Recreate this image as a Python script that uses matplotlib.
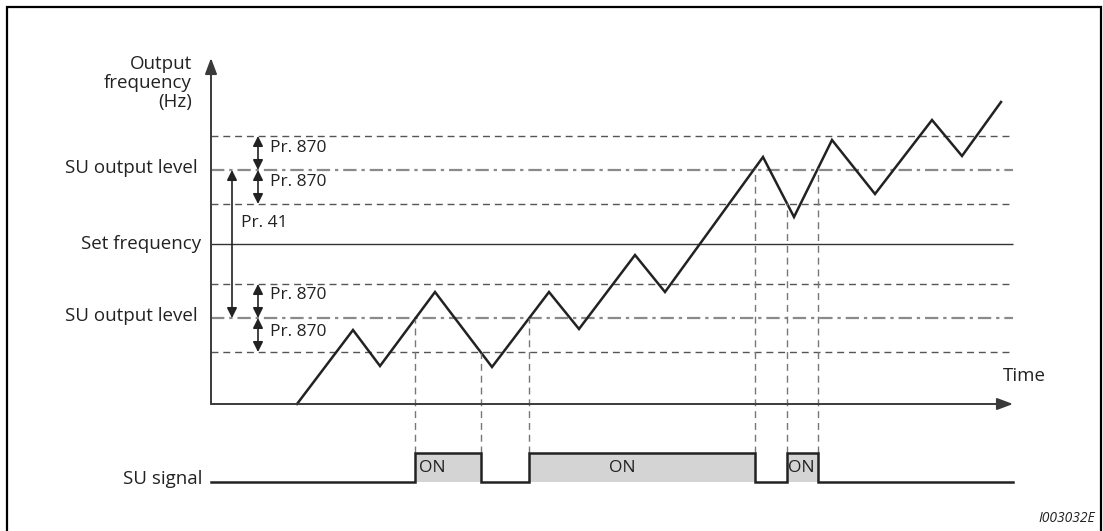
import matplotlib
matplotlib.use("Agg")
import matplotlib.pyplot as plt
import numpy as np

plt.rcParams['font.family'] = ['Open Sans', 'DejaVu Sans']

# --- values (1 unit ~ 1 px) ---
# output frequency polyline: time points and frequency values
t_freq = [86, 142, 169, 224, 281, 338, 368, 424, 454, 552, 583, 621, 664, 721, 751, 790]
f_out = [0, 74, 38, 112, 37, 112, 75, 149, 112, 247, 187, 264, 210, 284, 248, 302]

set_freq = 160   # set frequency
pr41 = 74        # Pr. 41 (up-to-frequency sensitivity)
pr870 = 34       # Pr. 870 (hysteresis width)
t_end = 802      # end of time axis
f_top = 346      # end of frequency axis

# SU signal ON intervals (start, end)
su_on = [(204, 270), (318, 544), (576, 607)]
su_on_labels = ["ON", "ON", "ON"]
su_label_t = [208, 398, 577]
sig_low, sig_high = -78, -49

fig = plt.figure(figsize=(11.03, 5.31), dpi=100)
ax = fig.add_axes([0, 0, 1, 1])
ax.set_xlim(-211, 892)
ax.set_ylim(-127, 404)
ax.axis('off')

su_lo = set_freq - pr41
su_hi = set_freq + pr41

# horizontal reference levels
dash = (0, (5, 3.5))
for lvl in [su_lo - pr870, su_lo + pr870, su_hi - pr870, su_hi + pr870]:
    ax.hlines(lvl, 0, t_end, colors='#555555', lw=1.0, linestyles=[dash])
for lvl in [su_lo, su_hi]:
    ax.hlines(lvl, 0, t_end, colors='#8a8a8a', lw=1.6, linestyles=[(0, (6, 2.2, 1.5, 2.2))])
ax.hlines(set_freq, 0, t_end, colors='#333333', lw=1.0)

# axes arrows
arrow_kw = dict(arrowstyle='-|>,head_length=0.8,head_width=0.3', lw=1.4, color='#3a3a3a',
                mutation_scale=12, shrinkA=0, shrinkB=0)
ax.annotate('', xy=(0, f_top), xytext=(0, 0), arrowprops=arrow_kw)
ax.annotate('', xy=(t_end, 0), xytext=(0, 0), arrowprops=arrow_kw)

# output frequency
ax.plot(t_freq, f_out, color='#222222', lw=1.8, solid_joinstyle='miter')

# vertical dashed guides from switching points to the signal
for on, off in su_on:
    for t in (on, off):
        f = np.interp(t, t_freq, f_out)
        ax.vlines(t, sig_high, f, colors='#777777', lw=1.0, linestyles=[dash])

# SU signal
xs, ys = [0], [sig_low]
for on, off in su_on:
    ax.fill_between([on, off], sig_low, sig_high, color='#d4d4d4', lw=0)
    xs += [on, on, off, off]
    ys += [sig_low, sig_high, sig_high, sig_low]
xs.append(t_end)
ys.append(sig_low)
ax.plot(xs, ys, color='#222222', lw=1.8, solid_joinstyle='miter')
for t, lab in zip(su_label_t, su_on_labels):
    ax.text(t, -64, lab, fontsize=12.5, ha='left', va='center', color='#222222')

# dimension arrows
dim_kw = dict(arrowstyle='<|-|>,head_length=0.6,head_width=0.3', lw=1.2, color='#222222',
              mutation_scale=10, shrinkA=0, shrinkB=0)
for a, b in [(su_hi + pr870, su_hi), (su_hi, su_hi - pr870),
             (su_lo + pr870, su_lo), (su_lo, su_lo - pr870)]:
    ax.annotate('', xy=(47, a), xytext=(47, b), arrowprops=dim_kw)
ax.annotate('', xy=(21, su_hi), xytext=(21, su_lo), arrowprops=dim_kw)

# labels
txt = dict(fontsize=13.5, color='#222222', va='center')
ax.text(-19, 321, "Output\nfrequency\n(Hz)", ha='right', multialignment='right',
        linespacing=1.1, **txt)
ax.text(-13, su_hi + 2, "SU output level", ha='right', **txt)
ax.text(-10, set_freq, "Set frequency", ha='right', **txt)
ax.text(-13, su_lo + 2, "SU output level", ha='right', **txt)
ax.text(-9, -75, "SU signal", ha='right', **txt)
pr = dict(fontsize=12.5, color='#222222', va='center', ha='left')
for f in [256, 222, 109, 72]:
    ax.text(59, f, "Pr. 870", **pr)
ax.text(30, 181, "Pr. 41", **pr)
ax.text(792, 28, "Time", ha='left', **txt)
ax.text(884, -115, "I003032E", ha='right', va='center', fontsize=10,
        style='italic', color='#222222')

# frame (open at the bottom)
ax.plot([-204.5, -204.5, 890, 890], [-140, 397, 397, -140], color='black', lw=1.6,
        clip_on=False, solid_joinstyle='miter')

fig.savefig("out.png", dpi=100)
